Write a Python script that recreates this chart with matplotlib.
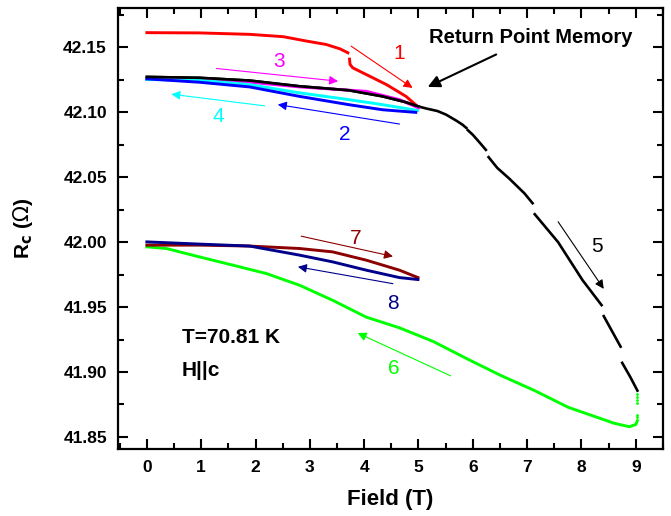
import numpy as np
import matplotlib
matplotlib.use("Agg")
import matplotlib.pyplot as plt

plt.rcParams['font.family'] = ['Liberation Sans', 'DejaVu Sans']

# curve 1 (red), first field sweep up
red_x = [0.0, 0.97, 1.89, 2.51, 2.94, 3.30, 3.55, 3.70, np.nan, 3.73, 3.74, 3.79, 4.04, 4.41, 4.77, 5.0]
red_y = [42.1614, 42.1612, 42.1601, 42.1583, 42.1549, 42.1523, 42.1490, 42.1459, np.nan, 42.1410, 42.1369,
         42.1343, 42.1291, 42.1214, 42.1123, 42.1040]

# curve 2 (blue), sweep down
blue_x = [0.0, 0.97, 1.89, 2.81, 3.72, 4.34, 4.95]
blue_y = [42.1258, 42.1232, 42.1196, 42.1123, 42.1059, 42.1020, 42.1000]

# curve 3 (magenta), sweep up
mag_x = [0.0, 0.97, 1.89, 2.81, 4.04, 4.65, 5.0]
mag_y = [42.1253, 42.1253, 42.1232, 42.1196, 42.1162, 42.1098, 42.1034]

# curve 4 (cyan), sweep down
cyan_x = [0.0, 0.97, 1.89, 2.81, 3.72, 4.34, 4.98]
cyan_y = [42.1253, 42.1247, 42.1214, 42.1150, 42.1098, 42.1059, 42.1015]

# curve 5 (black), sweep 0 -> 9 T, with small jumps
blk_x = [0.0, 0.97, 1.89, 2.81, 3.72, 4.34, 4.75, 5.0, 5.14, 5.35, 5.51, 5.70, 5.81, 5.88, np.nan,
         5.91, 6.0, 6.12, 6.24, np.nan, 6.29, 6.45, 6.67, 6.95, 7.10, np.nan,
         7.14, 7.35, 7.57, 8.02, 8.37, np.nan, 8.41, 8.72, np.nan, 8.75, 8.90, 9.03]
blk_y = [42.1273, 42.1266, 42.1245, 42.1201, 42.1170, 42.1123, 42.1080, 42.1045, 42.1030, 42.1010, 42.0982,
         42.0935, 42.0905, 42.0880, np.nan,
         42.0862, 42.0827, 42.0770, 42.0711, np.nan, 42.0655, 42.0572, 42.0490, 42.0376, 42.0300, np.nan,
         42.0215, 42.0110, 42.0000, 41.9707, 41.9515, np.nan, 41.9430, 41.9195, np.nan, 41.9070, 41.8960, 41.8856]

# curve 6 (green), 9 T -> 0
grn_x = [9.03, 9.00, 8.88, 8.60, 8.38, 7.76, 7.14, 6.52, 5.90, 5.27, 4.65, 4.04, 3.42, 2.81, 2.20, 1.59,
         0.97, 0.36, 0.0]
grn_y = [41.8625, 41.8595, 41.8578, 41.8605, 41.8637, 41.8727, 41.8856, 41.8972, 41.9100, 41.9235, 41.9340,
         41.9422, 41.9552, 41.9668, 41.9758, 41.9822, 41.9886, 41.9951, 41.9964]
# sparse green points while the field settles at 9 T
grn_dot_x = [9.03, 9.03, 9.03, 9.03, 9.03, 9.03]
grn_dot_y = [41.8650, 41.8665, 41.8760, 41.8785, 41.8810, 41.8830]

# curve 7 (dark red), sweep up
dred_x = [0.0, 0.97, 1.89, 2.81, 3.42, 4.04, 4.65, 4.99]
dred_y = [41.9977, 41.9977, 41.9970, 41.9951, 41.9925, 41.9861, 41.9784, 41.9727]

# curve 8 (navy), sweep down
navy_x = [0.0, 0.97, 1.89, 2.81, 3.42, 4.04, 4.65, 4.99]
navy_y = [42.0002, 41.9985, 41.9970, 41.9900, 41.9848, 41.9784, 41.9727, 41.9712]

# sweep arrows: label, colour, tail (x, y), head (x, y), label position
arrow_labels = ['1', '2', '3', '4', '5', '6', '7', '8']
arrow_colors = ['#ff0000', '#0000ff', '#ff00ff', '#00ffff', '#000000', '#00ff00', '#8b0000', '#00008b']
arrow_tail = [(3.76, 42.151), (4.65, 42.091), (1.28, 42.1338), (2.17, 42.105),
              (7.57, 42.0157), (5.59, 41.897), (2.84, 42.0046), (4.53, 41.968)]
arrow_head = [(4.89, 42.1188), (2.41, 42.106), (3.52, 42.124), (0.45, 42.114),
              (8.41, 41.964), (3.88, 41.930), (4.53, 41.989), (2.78, 41.981)]
label_pos = [(4.65, 42.145), (3.64, 42.083), (2.44, 42.139), (1.31, 42.097),
             (8.29, 41.9964), (4.54, 41.9026), (3.85, 42.0029), (4.53, 41.953)]

fig = plt.figure(figsize=(6.71, 5.16), dpi=100)
ax = fig.add_axes([0.176, 0.130, 0.812, 0.854])

lw = 2.1
ax.plot(red_x, red_y, color='#ff0000', lw=lw)
ax.plot(blk_x, blk_y, color='black', lw=lw - 0.2)
ax.plot(mag_x, mag_y, color='#ff00ff', lw=lw)
ax.plot(cyan_x, cyan_y, color='#00ffff', lw=lw)
ax.plot(blue_x, blue_y, color='#0000ff', lw=lw)
ax.plot(grn_x, grn_y, color='#00ff00', lw=lw)
ax.plot(grn_dot_x, grn_dot_y, 'o', color='#00ff00', ms=2, mew=0)
ax.plot(dred_x, dred_y, color='#8b0000', lw=lw)
ax.plot(navy_x, navy_y, color='#00008b', lw=lw)
ax.plot(blk_x[:8], blk_y[:8], color='black', lw=lw - 0.2)

for lab, c, t, h, p in zip(arrow_labels, arrow_colors, arrow_tail, arrow_head, label_pos):
    ax.annotate('', xy=h, xytext=t,
                arrowprops=dict(arrowstyle='-|>', color=c, lw=0.8, mutation_scale=13,
                                shrinkA=0, shrinkB=0))
    ax.text(p[0], p[1], lab, color=c, fontsize=15, ha='center', va='center')

ax.annotate('', xy=(5.17, 42.1196), xytext=(6.43, 42.1446),
            arrowprops=dict(arrowstyle='-|>', color='black', lw=1.5, mutation_scale=18,
                            shrinkA=0, shrinkB=0))
ax.text(7.07, 42.1575, 'Return Point Memory', fontsize=14.5, fontweight='bold',
        ha='center', va='center')
ax.text(0.64, 41.922, 'T=70.81 K', fontsize=15, fontweight='bold', ha='left', va='baseline')
ax.text(0.64, 41.897, 'H||c', fontsize=15, fontweight='bold', ha='left', va='baseline')

ax.set_xlim(-0.53, 9.49)
ax.set_ylim(41.8407, 42.1802)
ax.set_xticks(range(0, 10))
ax.set_xticks(np.arange(-0.5, 9.6, 0.5), minor=True)
ax.set_yticks([41.85, 41.90, 41.95, 42.00, 42.05, 42.10, 42.15])
ax.set_yticks(np.arange(41.85, 42.18, 0.025), minor=True)
ax.yaxis.set_major_formatter(matplotlib.ticker.FormatStrFormatter('%.2f'))

ax.tick_params(which='both', direction='in', top=True, right=True, width=1.5)
ax.tick_params(which='major', length=7, labelsize=12.5, pad=8)
ax.tick_params(which='minor', length=4)
for lbl in ax.get_xticklabels() + ax.get_yticklabels():
    lbl.set_fontweight('bold')
for s in ax.spines.values():
    s.set_linewidth(1.6)

ax.set_xlabel('Field (T)', fontsize=16, fontweight='bold', labelpad=10)
ax.set_ylabel(r'R$_\mathbf{c}$ ($\Omega$)', fontsize=15, fontweight='bold', labelpad=20)

fig.savefig('out.png', dpi=100)
